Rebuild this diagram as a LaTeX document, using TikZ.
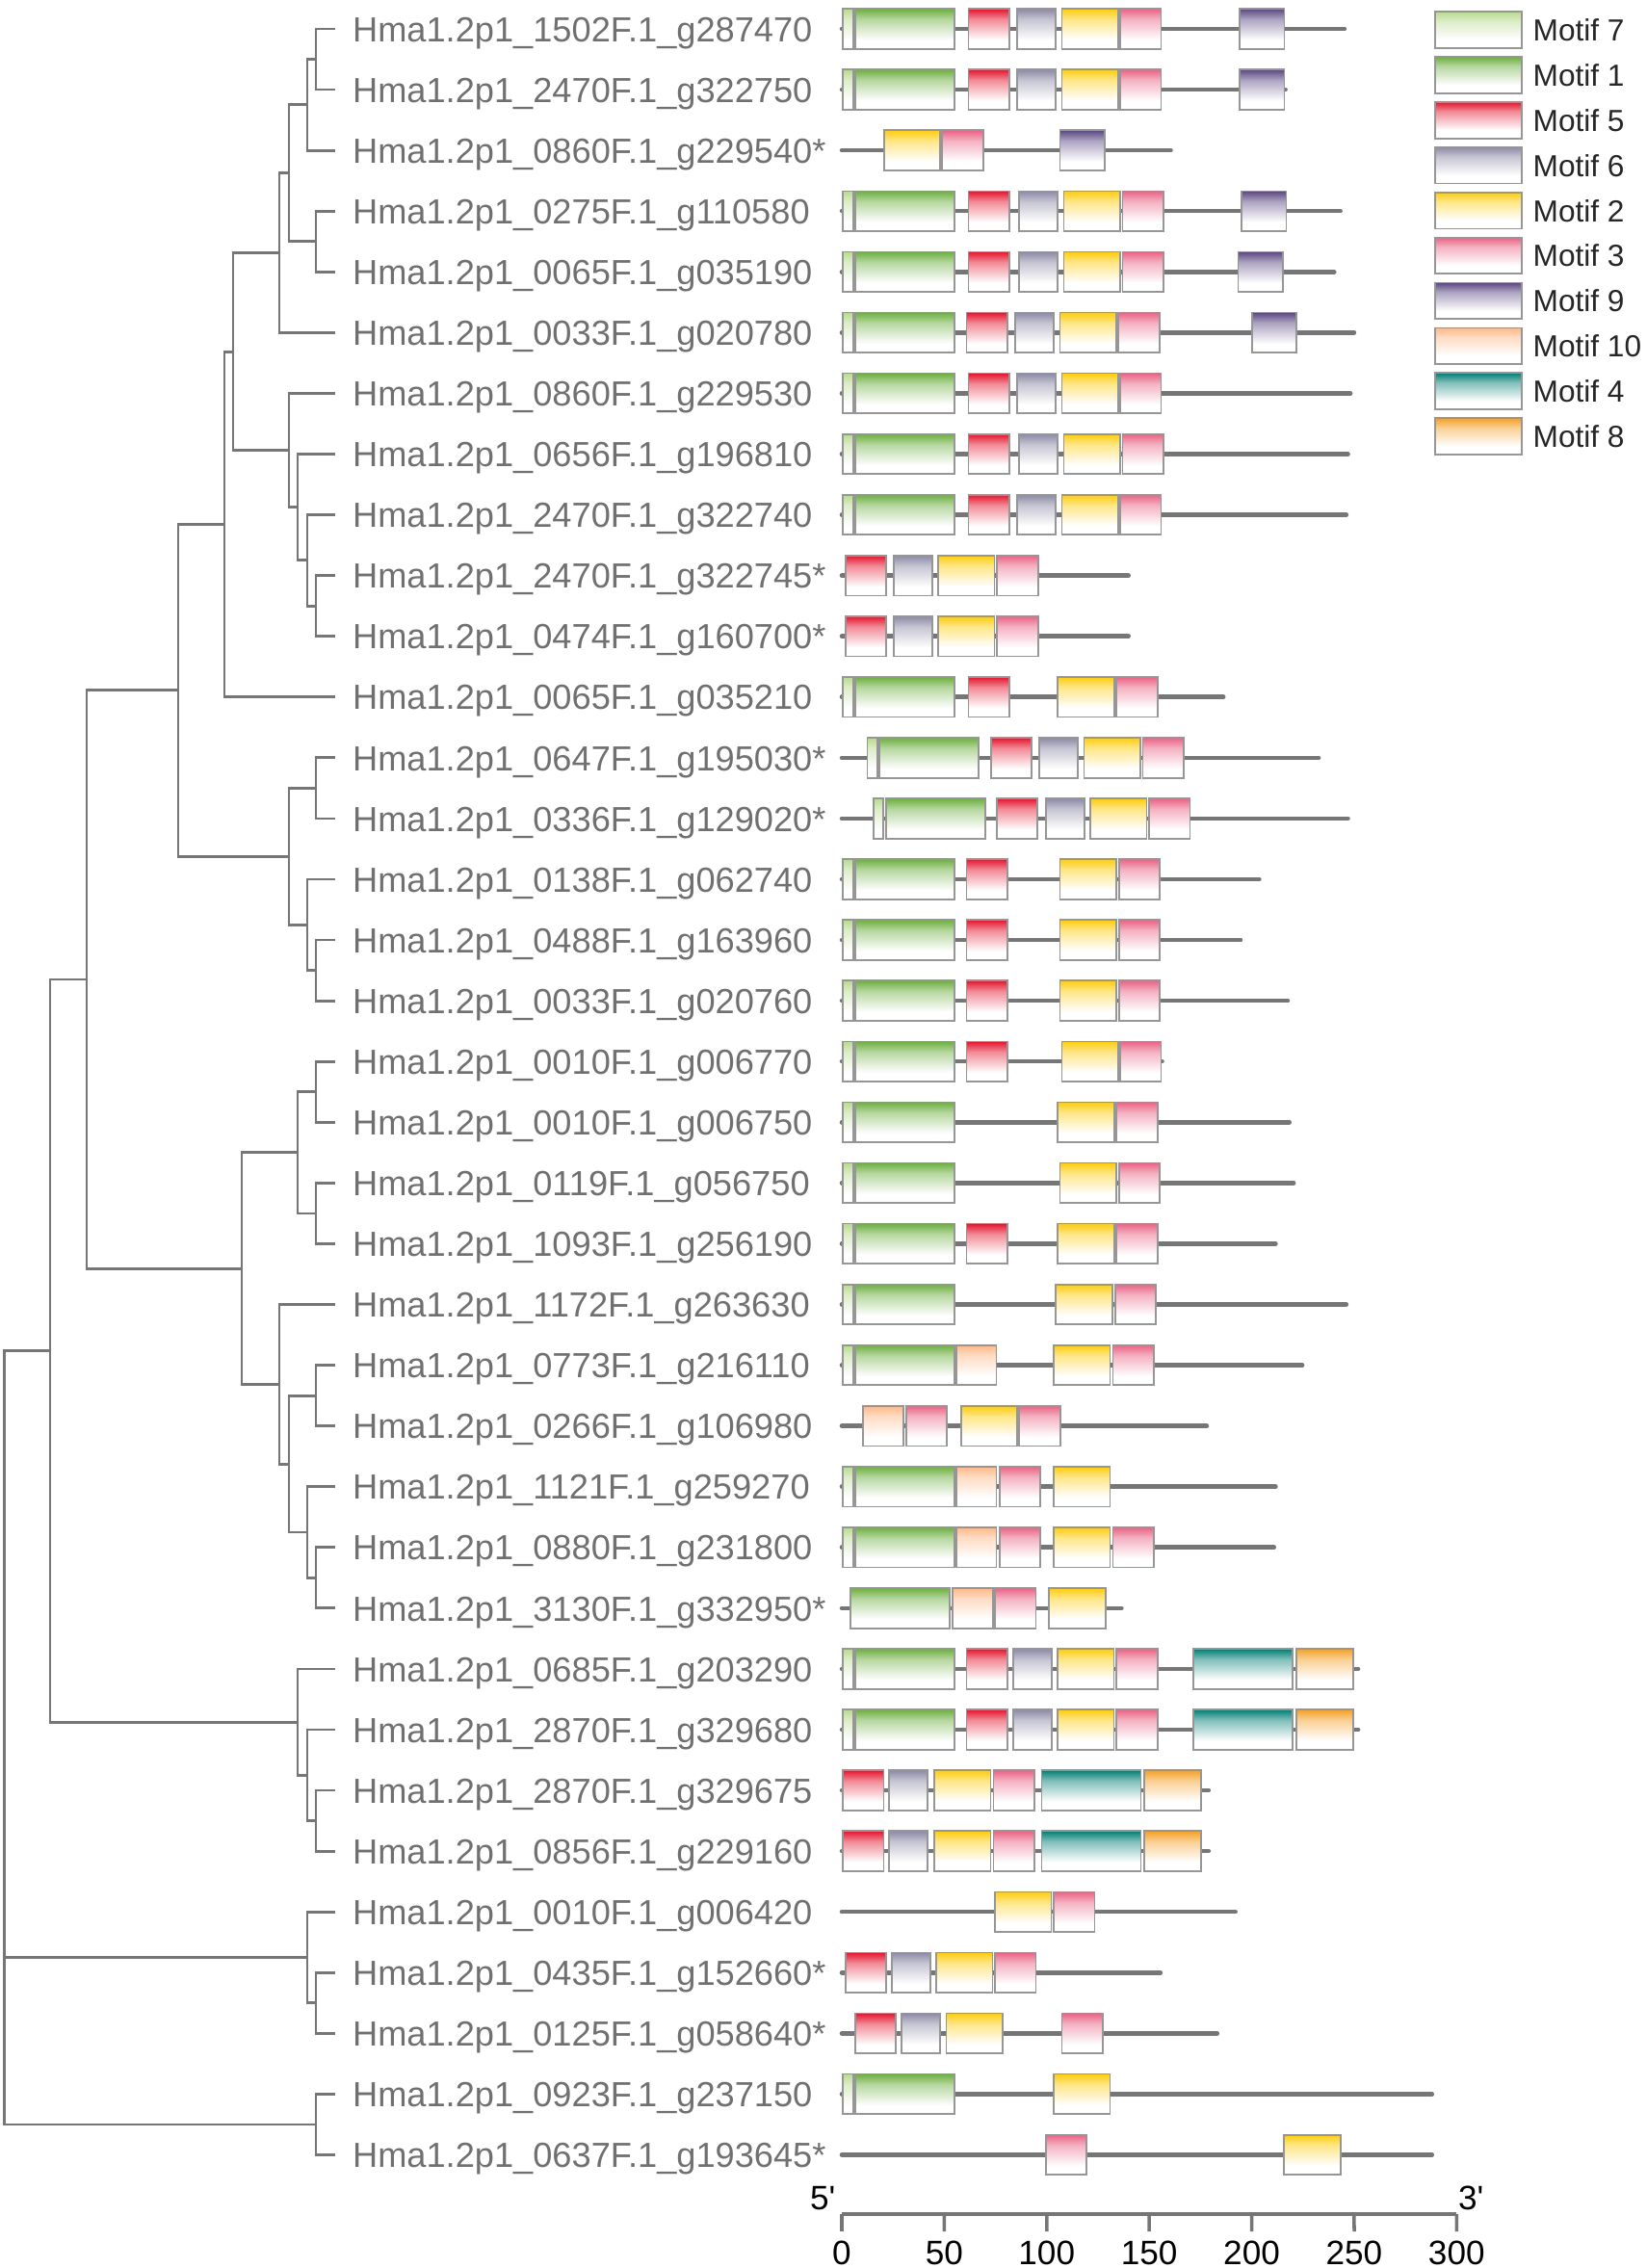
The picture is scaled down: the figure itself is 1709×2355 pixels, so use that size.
\documentclass[tikz,border=0pt]{standalone}
\usepackage{fontspec}
\setmainfont{Liberation Sans}
\usepackage{xcolor}
\usetikzlibrary{positioning}
\definecolor{treegray}{RGB}{118,118,118}
\definecolor{labgray}{RGB}{112,112,112}
\definecolor{edgegray}{RGB}{150,150,150}
\definecolor{linegray}{RGB}{118,118,118}
\definecolor{motif7}{RGB}{184,219,142}
\definecolor{motif1}{RGB}{108,176,62}
\definecolor{motif5}{RGB}{232,20,45}
\definecolor{motif6}{RGB}{140,138,166}
\definecolor{motif2}{RGB}{255,205,10}
\definecolor{motif3}{RGB}{236,98,132}
\definecolor{motif9}{RGB}{92,72,132}
\definecolor{motif10}{RGB}{255,184,135}
\definecolor{motif4}{RGB}{0,128,118}
\definecolor{motif8}{RGB}{246,160,35}
\colorlet{mc}{black}
\pgfdeclareverticalshading[mc]{mfade}{100bp}{color(0bp)=(white); color(25bp)=(white); color(36bp)=(white); color(62bp)=(mc!50!white); color(75bp)=(mc); color(100bp)=(mc)}
\pgfkeys{/mw/.cd, 7/.initial=4.9, 1/.initial=48.4, 5/.initial=19.8, 6/.initial=18.8, 2/.initial=27.5,
  3/.initial=20.0, 9/.initial=21.8, 10/.initial=19.5, 4/.initial=48.4, 8/.initial=27.7}
\newcommand{\clade}[3]{\draw[branch] (#1) |- (#2) (#1) |- (#3);}

\begin{document}
\begin{tikzpicture}[x=0.01cm,y=-0.01cm]
    \tikzset{branch/.style={draw=treegray, line width=0.8pt},
             leaf/.style={font=\fontsize{10.3}{12}\selectfont, text=labgray, inner sep=0pt, text height=7.5pt, text depth=0pt},
             backbone/.style={draw=linegray, line width=1.3pt, line cap=round},
             mbox/.style={draw=edgegray, line width=0.5pt, shade, shading=mfade, /utils/exec={\colorlet{mc}{motif#1}}},
             keybox/.style={mbox=#1, minimum width=0.9cm, minimum height=0.377cm, inner sep=0pt},
             keytext/.style={font=\fontsize{9}{11}\selectfont, text=black!85, inner sep=0pt, text height=6.5pt, text depth=0pt},
             num/.style={font=\fontsize{10}{12}\selectfont, inner sep=0pt, text height=7.2pt, text depth=0pt}}
    \useasboundingbox (0,0) rectangle (1709,2355);

    \foreach \i in {1,...,36} \coordinate (t\i) at (348.4,{30+63.07*(\i-1)});

    \foreach \i/\scf/\gn in {1/1502/g287470, 2/2470/g322750, 3/0860/g229540*, 4/0275/g110580, 5/0065/g035190,
        6/0033/g020780, 7/0860/g229530, 8/0656/g196810, 9/2470/g322740, 10/2470/g322745*, 11/0474/g160700*,
        12/0065/g035210, 13/0647/g195030*, 14/0336/g129020*, 15/0138/g062740, 16/0488/g163960, 17/0033/g020760,
        18/0010/g006770, 19/0010/g006750, 20/0119/g056750, 21/1093/g256190, 22/1172/g263630, 23/0773/g216110,
        24/0266/g106980, 25/1121/g259270, 26/0880/g231800, 27/3130/g332950*, 28/0685/g203290, 29/2870/g329680,
        30/2870/g329675, 31/0856/g229160, 32/0010/g006420, 33/0435/g152660*, 34/0125/g058640*, 35/0923/g237150,
        36/0637/g193645*}
      \node[leaf, right=0.17cm of t\i] (l\i) {Hma1.2p1\_\scf F.1\_\gn};

    \coordinate (c1to2) at (328,61.5);     \coordinate (c1to3) at (319,108.8);
    \coordinate (c4to5) at (328,250.7);    \coordinate (c1to5) at (300,179.8);
    \coordinate (c1to6) at (290,262.6);    \coordinate (c10to11) at (328,629.2);
    \coordinate (c9to11) at (319,581.9);   \coordinate (c8to11) at (309,526.7);
    \coordinate (c7to11) at (300,467.6);   \coordinate (c1to11) at (242,365.1);
    \coordinate (c1to12) at (233,544.4);   \coordinate (c13to14) at (328,818.4);
    \coordinate (c16to17) at (328,1007.6); \coordinate (c15to17) at (319,960.3);
    \coordinate (c13to17) at (300,889.3);  \coordinate (c1to17) at (185,716.9);
    \coordinate (c18to19) at (328,1133.7); \coordinate (c20to21) at (328,1259.9);
    \coordinate (c18to21) at (309,1196.8); \coordinate (c23to24) at (328,1449.1);
    \coordinate (c26to27) at (328,1638.3); \coordinate (c25to27) at (319,1591.0);
    \coordinate (c23to27) at (300,1520.1); \coordinate (c22to27) at (290,1437.3);
    \coordinate (c18to27) at (251,1317.1); \coordinate (c1to27) at (90,1017.0);
    \coordinate (c30to31) at (328,1890.6); \coordinate (c29to31) at (319,1843.3);
    \coordinate (c28to31) at (309,1788.1); \coordinate (c1to31) at (52,1402.6);
    \coordinate (c33to34) at (328,2079.8); \coordinate (c32to34) at (319,2032.5);
    \coordinate (c35to36) at (328,2205.9); \coordinate (root) at (4.5,1804.3);

    \clade{c1to2}{t1}{t2}          \clade{c1to3}{c1to2}{t3}
    \clade{c4to5}{t4}{t5}          \clade{c1to5}{c1to3}{c4to5}
    \clade{c1to6}{c1to5}{t6}       \clade{c10to11}{t10}{t11}
    \clade{c9to11}{t9}{c10to11}    \clade{c8to11}{t8}{c9to11}
    \clade{c7to11}{t7}{c8to11}     \clade{c1to11}{c1to6}{c7to11}
    \clade{c1to12}{c1to11}{t12}    \clade{c13to14}{t13}{t14}
    \clade{c16to17}{t16}{t17}      \clade{c15to17}{t15}{c16to17}
    \clade{c13to17}{c13to14}{c15to17}
    \clade{c1to17}{c1to12}{c13to17}
    \clade{c18to19}{t18}{t19}      \clade{c20to21}{t20}{t21}
    \clade{c18to21}{c18to19}{c20to21}
    \clade{c23to24}{t23}{t24}      \clade{c26to27}{t26}{t27}
    \clade{c25to27}{t25}{c26to27}  \clade{c23to27}{c23to24}{c25to27}
    \clade{c22to27}{t22}{c23to27}  \clade{c18to27}{c18to21}{c22to27}
    \clade{c1to27}{c1to17}{c18to27}
    \clade{c30to31}{t30}{t31}      \clade{c29to31}{t29}{c30to31}
    \clade{c28to31}{t28}{c29to31}  \clade{c1to31}{c1to27}{c28to31}
    \clade{c33to34}{t33}{t34}      \clade{c32to34}{t32}{c33to34}
    \clade{c35to36}{t35}{t36}
    \draw[branch] (root) |- (c1to31) (root) |- (c32to34) (root) |- (c35to36);

    % motif maps, x in amino acids
    \begin{scope}[shift={(874,0)}, xscale=2.1276]
      \foreach \r/\len/\mots in {
          1/245.3/{7/0.6,1/6.5,5/61.8,6/85.6,2/107.4,3/135.8,9/194.2},
          2/216.5/{7/0.6,1/6.5,5/61.8,6/85.6,2/107.4,3/135.8,9/194.2},
          3/160.5/{2/20.5,3/49.0,9/106.4},
          4/243.3/{7/0.6,1/6.5,5/61.8,6/86.6,2/108.3,3/137.0,9/195.1},
          5/240.3/{7/0.6,1/6.5,5/61.8,6/86.6,2/108.3,3/137.0,9/193.4},
          6/250.0/{7/0.6,1/6.5,5/60.9,6/84.6,2/106.4,3/135.0,9/200.1},
          7/248.2/{7/0.6,1/6.5,5/61.8,6/85.6,2/107.4,3/135.8},
          8/247.0/{7/0.6,1/6.5,5/61.8,6/86.6,2/108.3,3/137.0},
          9/246.2/{7/0.6,1/6.5,5/61.8,6/85.6,2/107.4,3/135.8},
          10/139.9/{5/1.7,6/25.2,2/47.0,3/75.7},
          11/139.9/{5/1.7,6/25.2,2/47.0,3/75.7},
          12/186.2/{7/0.6,1/6.5,5/61.8,2/105.4,3/134.0},
          13/232.7/{7/12.4,1/18.3,5/72.7,6/96.4,2/118.2,3/146.9},
          14/247.0/{7/15.4,1/21.5,5/75.5,6/99.6,2/121.2,3/149.9},
          15/203.7/{7/0.6,1/6.5,5/60.9,2/106.4,3/135.2},
          16/194.6/{7/0.6,1/6.5,5/60.9,2/106.4,3/135.2},
          17/217.6/{7/0.6,1/6.5,5/60.9,2/106.4,3/135.2},
          18/156.3/{7/0.6,1/6.5,5/60.9,2/107.4,3/135.8},
          19/218.4/{7/0.6,1/6.5,2/105.4,3/134.0},
          20/220.5/{7/0.6,1/6.5,2/106.4,3/135.2},
          21/211.7/{7/0.6,1/6.5,5/60.9,2/105.4,3/134.0},
          22/246.2/{7/0.6,1/6.5,2/104.4,3/133.3},
          23/224.7/{7/0.6,1/6.5,10/55.9,2/103.4,3/132.3},
          24/178.1/{10/10.5,3/31.4,2/58.1,3/86.6},
          25/211.7/{7/0.6,1/6.5,10/55.9,3/76.9,2/103.4},
          26/210.9/{7/0.6,1/6.5,10/55.9,3/76.9,2/103.4,3/132.3},
          27/136.5/{1/4.3,10/54.2,3/74.7,2/101.2},
          28/252.0/{7/0.6,1/6.5,5/60.9,6/83.6,2/105.3,3/134.0,4/171.6,8/222.0},
          29/252.0/{7/0.6,1/6.5,5/60.9,6/83.6,2/105.3,3/134.0,4/171.6,8/222.0},
          30/179.0/{5/0.6,6/23.1,2/45.1,3/74.0,4/97.5,8/147.7},
          31/179.0/{5/0.6,6/23.1,2/45.1,3/74.0,4/97.5,8/147.7},
          32/192.1/{2/74.7,3/103.4},
          33/155.5/{5/1.7,6/24.5,2/46.1,3/74.7},
          34/183.2/{5/6.5,6/29.2,2/51.0,3/107.4},
          35/288.0/{7/0.6,1/6.5,2/103.4},
          36/288.0/{3/99.5,2/215.9}} {
        \pgfmathsetmacro\y{30+63.07*(\r-1)}
        \draw[backbone] (0,\y) -- (\len,\y);
        \foreach \m/\s in \mots
          \draw[mbox=\m] (\s,\y-20.8) rectangle ++(\pgfkeysvalueof{/mw/\m},41.6);
      }
      \coordinate (ax0) at (0,2299);
      \coordinate (ax300) at (300,2299);
      \draw[draw=linegray, line width=1pt] (ax0) -- (ax300);
      \foreach \t in {0,50,...,300} {
        \coordinate (tk\t) at (\t,2317);
        \draw[draw=linegray, line width=1pt] (\t,2299) -- (tk\t);
      }
    \end{scope}
    \foreach \t in {0,50,...,300} \node[num, below=0.08cm of tk\t] (n\t) {\t};
    \node[num, anchor=south east] (five) at ([xshift=-0.06cm,yshift=0.04cm]ax0) {5\textquotesingle};
    \node[num, anchor=south west] (three) at ([xshift=0.01cm,yshift=0.04cm]ax300) {3\textquotesingle};

    \foreach \m [count=\k from 0] in {7,1,5,6,2,3,9,10,4,8} {
      \node[keybox=\m] (key\m) at (1535,{31+46.9*\k}) {};
      \node[keytext, right=0.1cm of key\m] (txt\m) {Motif \m};
    }
\end{tikzpicture}
\end{document}
